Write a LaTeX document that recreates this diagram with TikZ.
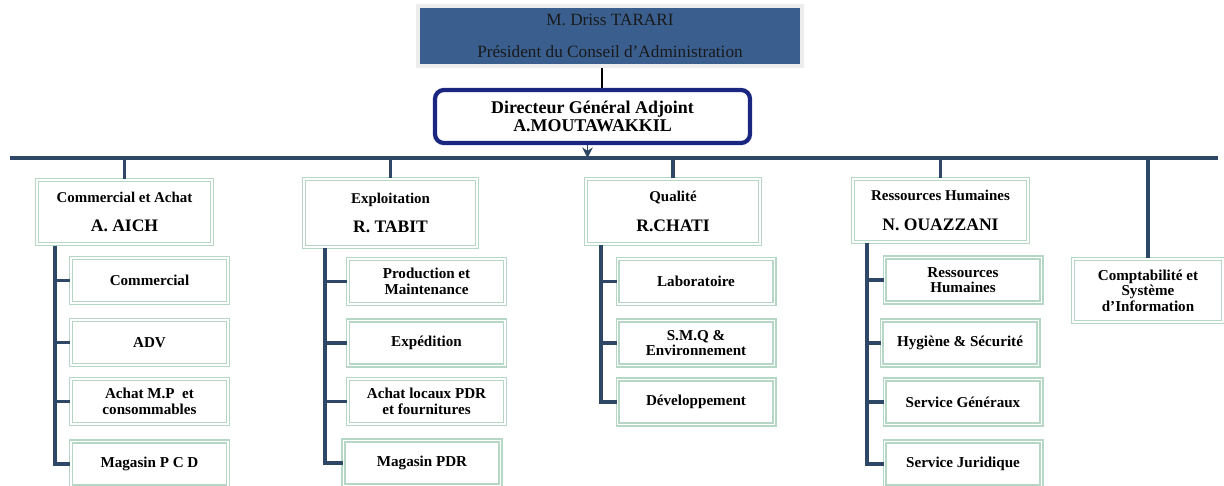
\documentclass[tikz,border=0pt]{standalone}
\usepackage{fontspec}
\setmainfont{Liberation Serif}
\usetikzlibrary{positioning,arrows.meta}
\definecolor{presblue}{HTML}{3A5F8F}
\definecolor{dganavy}{HTML}{1B2680}
\definecolor{linknavy}{HTML}{2E4766}
\definecolor{boxgreen}{HTML}{B6D6C6}
\tikzset{
  presbox/.style={draw=black!7, line width=2.2pt, fill=presblue, minimum width=7.68cm, minimum height=1.2cm, inner sep=0pt, align=center, font=\fontsize{9.8}{18}\selectfont, text=black!90},
  dgabox/.style={draw=dganavy, line width=2.4pt, rounded corners=5pt, fill=white, minimum width=6.3cm, minimum height=1.06cm, inner sep=0pt, align=center, font=\bfseries\fontsize{10.2}{10.4}\selectfont},
  deptbox/.style={draw=boxgreen, double=white, line width=0.6pt, double distance=1.1pt, fill=white, minimum height=1.28cm, inner sep=0pt, align=center},
  subbox/.style={draw=boxgreen, double=white, line width=0.6pt, double distance=1.1pt, fill=white, minimum width=3.14cm, minimum height=0.9cm, inner sep=0pt, align=center, font=\bfseries\fontsize{8.6}{8.9}\selectfont},
  bus/.style={draw=linknavy, line width=1.9pt},
  link/.style={draw=linknavy, line width=2.1pt}
}
\newcommand{\depttext}[2]{{\fontsize{8.5}{8.5}\selectfont #1}\\[5pt]{\fontsize{10}{10}\selectfont #2}}

\begin{document}
\begin{tikzpicture}[x=0.02cm, y=-0.02cm, font=\bfseries]
  \useasboundingbox (0,0) rectangle (1224,486);

  % top of the chart
  \node[presbox] (pres) at (610,36) {\mdseries M. Driss TARARI\\\mdseries Président du Conseil d’Administration};
  \node[dgabox] (dga) at (592.5,116.5) {Directeur Général Adjoint\\A.MOUTAWAKKIL};
  \draw[black, line width=0.6pt] ([xshift=-0.16cm]pres.south) -- ([xshift=-0.16cm]pres.south |- dga.north);

  \coordinate (busL) at (10,158);
  \coordinate (busR) at (1218,158);
  \draw[bus] (busL) -- (busR);
  \draw[linknavy, line width=0.8pt, -{Stealth[length=6pt, width=6pt]}] ([xshift=-0.1cm]dga.south) -- ([xshift=-0.1cm]dga.south |- busL);

  % departments
  \node[deptbox, minimum width=3.5cm] (c1) at (124.5,212) {\depttext{Commercial et Achat}{A. AICH}};
  \node[deptbox, minimum width=3.46cm, minimum height=1.36cm] (c2) at (390.5,213) {\depttext{Exploitation}{R. TABIT}};
  \node[deptbox, minimum width=3.48cm, minimum height=1.3cm] (c3) at (673,211.5) {\depttext{Qualité}{R.CHATI}};
  \node[deptbox, minimum width=3.5cm, minimum height=1.26cm] (c4) at (940.5,210.5) {\depttext{Ressources Humaines}{N. OUAZZANI}};
  \node[deptbox, minimum width=3.0cm, minimum height=1.26cm, font=\bfseries\fontsize{8.6}{8.9}\selectfont] (c5) at (1148,290.5) {Comptabilité et\\Système\\d’Information};

  \foreach \d in {c1,c2,c3,c4}
    \draw[bus] (\d.north |- busL) -- (\d.north);
  \draw[bus] (1148,158) -- (c5.north);

  % commercial et achat
  \node[subbox] (s11) at (149.5,280.5) {Commercial};
  \node[subbox] (s12) at (149.5,342.5) {ADV};
  \node[subbox] (s13) at (149.5,401.5) {Achat M.P\ \ et\\consommables};
  \node[subbox] (s14) at (149.5,464) {Magasin P C D};
  \coordinate (t1) at (55,246);
  \foreach \s in {s11,s12,s13,s14}
    \draw[link] (t1) |- (\s.west);

  % exploitation
  \node[subbox] (s21) at (426.5,281.5) {Production et\\Maintenance};
  \node[subbox] (s22) at (426.5,343) {Expédition};
  \node[subbox] (s23) at (426.5,401.5) {Achat locaux PDR\\et fournitures};
  \node[subbox] (s24) at (422,463) {Magasin PDR};
  \coordinate (t2) at (325,248);
  \foreach \s in {s21,s22,s23,s24}
    \draw[link] (t2) |- (\s.west);

  % qualite
  \node[subbox] (s31) at (696,281.5) {Laboratoire};
  \node[subbox] (s32) at (696,343) {S.M.Q \&\\Environnement};
  \node[subbox] (s33) at (696,402) {Développement};
  \coordinate (t3) at (601,245);
  \foreach \s in {s31,s32,s33}
    \draw[link] (t3) |- (\s.west);

  % ressources humaines
  \node[subbox] (s41) at (963,280) {Ressources\\Humaines};
  \node[subbox] (s42) at (960,343) {Hygiène \& Sécurité};
  \node[subbox] (s43) at (963,402) {Service Généraux};
  \node[subbox] (s44) at (963,464) {Service Juridique};
  \coordinate (t4) at (867,243);
  \foreach \s in {s41,s42,s43,s44}
    \draw[link] (t4) |- (\s.west);
\end{tikzpicture}
\end{document}
